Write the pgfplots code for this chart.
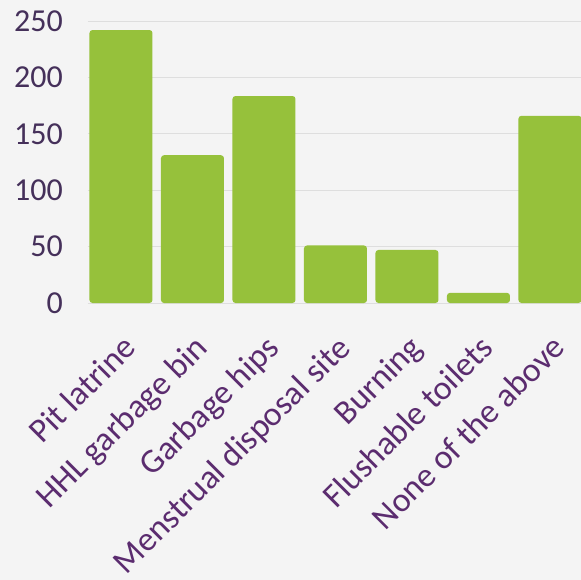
\documentclass[border=0pt]{standalone}
\usepackage{pgfplots}
\pgfplotsset{compat=1.18}
\usepackage{fontspec}
\setmainfont{Carlito}
\definecolor{bg}{HTML}{F4F4F4}
\definecolor{bargreen}{HTML}{96C13B}
\definecolor{labpurple}{HTML}{5B2C6F}
\definecolor{tickpurple}{HTML}{45305A}
\definecolor{gridgray}{HTML}{DEDEDE}

\begin{document}
\begin{tikzpicture}
\fill[bg] (-88pt,-277pt) rectangle (493pt,303pt);
\begin{axis}[
    at={(0pt,0pt)}, anchor=south west,
    scale only axis,
    width=493pt, height=282pt,
    xmin=-0.4615, xmax=6.434,
    ymin=0, ymax=250,
    ytick={0,50,100,150,200,250},
    xtick=data,
    xticklabels={Pit latrine, HHL garbage bin, Garbage hips, Menstrual disposal site, Burning, Flushable toilets, None of the above},
    axis line style={draw=none},
    major tick length=0pt,
    ymajorgrids,
    major grid style={draw=gridgray, line width=0.8pt},
    /pgf/number format/assume math mode=true,
    yticklabel style={font=\fontsize{32}{32}\selectfont, text=tickpurple, anchor=east, inner sep=0pt, xshift=-25pt},
    xticklabel style={font=\fontsize{34}{34}\selectfont, text=labpurple, inner sep=0pt, xshift=0pt, yshift=-30pt, rotate=45, anchor=north east},
    ybar, bar width=63pt,
]
\addplot[fill=bargreen, draw=none, rounded corners=3pt] coordinates {
    (0,242) (1,131) (2,183.5) (3,51) (4,47) (5,9) (6,166)
};
\end{axis}
\pgfresetboundingbox
\path (-88pt,-277pt) rectangle (493pt,303pt);
\end{tikzpicture}
\end{document}
